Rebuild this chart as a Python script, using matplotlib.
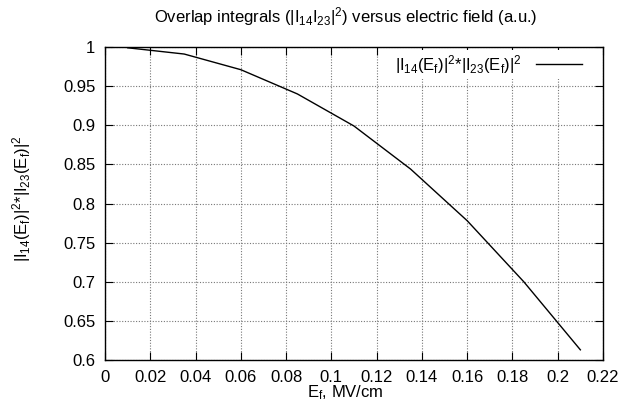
import numpy as np
import matplotlib
matplotlib.use('Agg')
import matplotlib.pyplot as plt

plt.rcParams['font.family'] = ['Liberation Sans', 'DejaVu Sans']
plt.rcParams['mathtext.fontset'] = 'custom'
plt.rcParams['mathtext.rm'] = 'Liberation Sans'
plt.rcParams['mathtext.it'] = 'Liberation Sans'
plt.rcParams['mathtext.bf'] = 'Liberation Sans:bold'

# field values (MV/cm) and overlap product
field = [0.010, 0.035, 0.060, 0.085, 0.110, 0.135, 0.160, 0.185, 0.210]
overlap = [0.999, 0.991, 0.971, 0.940, 0.899, 0.844, 0.778, 0.700, 0.613]

xticks = [0, 0.02, 0.04, 0.06, 0.08, 0.1, 0.12, 0.14, 0.16, 0.18, 0.2, 0.22]
xtick_labels = ['0', '0.02', '0.04', '0.06', '0.08', '0.1', '0.12', '0.14', '0.16', '0.18', '0.2', '0.22']
yticks = [0.6, 0.65, 0.7, 0.75, 0.8, 0.85, 0.9, 0.95, 1.0]
ytick_labels = ['0.6', '0.65', '0.7', '0.75', '0.8', '0.85', '0.9', '0.95', '1']

fs = 12
W, H = 637, 413
fig = plt.figure(figsize=(W / 100, H / 100), dpi=100)
ax = fig.add_axes([105 / W, 1 - 360 / H, (603 - 105) / W, (360 - 47) / H])

ax.plot(field, overlap, color='black', lw=1.0,
        label=r'$|I_{14}(E_f)|^2$*$|I_{23}(E_f)|^2$')

ax.set_xlim(0, 0.22)
ax.set_ylim(0.6, 1.0)
ax.set_xticks(xticks)
ax.set_xticklabels(xtick_labels, fontsize=fs)
ax.set_yticks(yticks)
ax.set_yticklabels(ytick_labels, fontsize=fs)
ax.tick_params(direction='in', length=6, width=0.8, top=True, right=True, pad=7)
ax.grid(True, linestyle=(0, (1, 1.5)), color='#777777', lw=0.8)
for s in ax.spines.values():
    s.set_linewidth(1.0)

leg = ax.legend(loc='upper right', bbox_to_anchor=(0.9645, 0.992), markerfirst=False,
                fontsize=fs, frameon=True, handlelength=2.75, handletextpad=0.85,
                borderaxespad=0, borderpad=0.2)
leg.get_frame().set_facecolor('white')
leg.get_frame().set_edgecolor('none')
leg.get_frame().set_alpha(1)

fig.text(346 / W, 1 - 17 / H, r'Overlap integrals ($|I_{14}I_{23}|^2$) versus electric field (a.u.)',
         ha='center', va='center', fontsize=fs)
fig.text(345 / W, 1 - 393 / H, r'$E_f$, MV/cm', ha='center', va='center', fontsize=fs)
fig.text(22 / W, 1 - 199 / H, r'$|I_{14}(E_f)|^2$*$|I_{23}(E_f)|^2$', ha='center', va='center',
         rotation=90, fontsize=fs)

fig.savefig('out.png', dpi=100)
